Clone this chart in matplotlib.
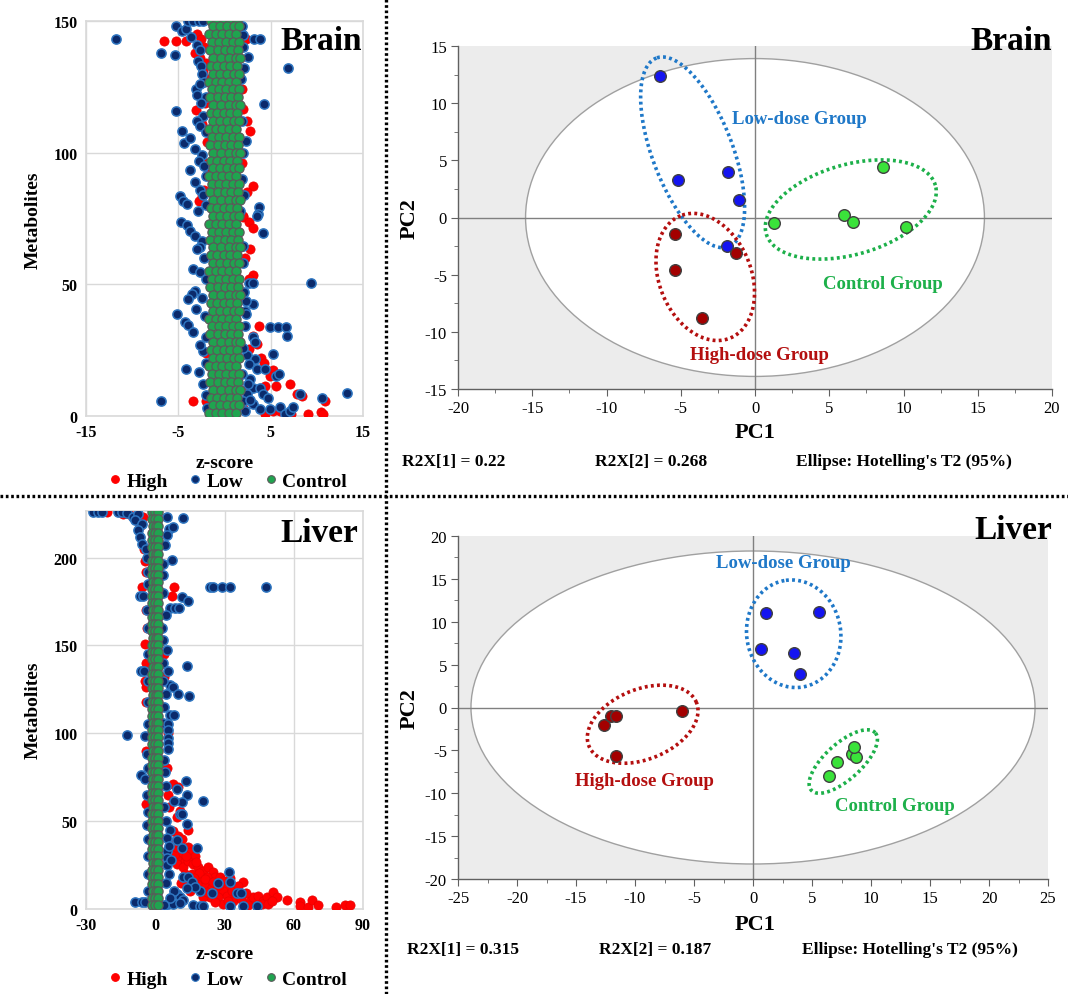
import matplotlib
matplotlib.use("Agg")
import matplotlib.pyplot as plt
from matplotlib.patches import Ellipse
from matplotlib.lines import Line2D
from matplotlib.ticker import MultipleLocator
import numpy as np

plt.rcParams['font.family'] = ['Liberation Serif', 'DejaVu Serif']
plt.rcParams['axes.unicode_minus'] = False

# ---------------- z-score data: (z-score, metabolite index) ----------------
brain_high = [
    (-6.5, 142.5), (-5.3, 142.5), (-4.2, 142.5), (2.3, 143), (-3.0, 145), (-2.5, 143),
    (-2.2, 140), (-3.2, 138), (-2.7, 136), (-2.0, 134), (-2.3, 131), (-1.9, 128),
    (2.0, 116.7), (-3.1, 116.3), (1.9, 124), (-2.1, 119), (-2.4, 111), (2.4, 112),
    (2.8, 108.4), (-1.9, 104), (-2.1, 96), (1.9, 96), (-1.8, 92), (3.05, 87.5),
    (-2.2, 86), (2.4, 85), (-2.8, 81.8), (-2.4, 83.5), (2.0, 76), (2.0, 75.4),
    (2.6, 73.6), (3.05, 71.4), (2.8, 63.4), (2.2, 60), (3.1, 53.6), (2.6, 52.1),
    (2.0, 45), (3.7, 34.3), (3.1, 30.5), (3.5, 27.4), (2.6, 25.5), (-2.0, 24),
    (4.0, 22.2), (4.3, 20.3), (5.2, 17.5), (4.9, 15.3), (5.6, 11.5), (4.4, 11.5),
    (7.1, 12.3), (2.3, 10), (7.8, 8.4), (8.4, 7.7), (-3.4, 5.6), (-2.0, 5.6),
    (10.9, 5.6), (2.0, 3), (5.2, 2.0), (6.0, 2.0), (10.5, 1.5), (4.4, 0.8),
    (7.2, 0.8), (9.0, 0.8), (10.7, 0.8),
]
brain_low = [
    (-11.8, 143), (-6.9, 138), (-5.4, 137), (-5.3, 116), (6.9, 132), (4.3, 118.5),
    (3.2, 143), (3.8, 143), (2.5, 136.5), (2.1, 132), (2.0, 144.5), (2.3, 104.6),
    (-4.6, 108.4), (-4.4, 103.6), (-3.7, 105.6), (-3.2, 101.4), (-3.1, 124), (-3.0, 122),
    (-5.3, 148), (-4.6, 146.3), (-4.2, 147), (-3.7, 93.4), (-3.2, 88.8), (-4.8, 83.7),
    (-4.5, 81.8), (-4.1, 80.5), (3.7, 79.5), (3.6, 76.7), (1.7, 78),
    (-4.0, 150), (-3.4, 150), (-2.8, 150), (-2.3, 150), (-3.6, 144), (-3.0, 141),
    (-2.6, 139), (-2.9, 135), (-2.5, 133), (-2.4, 130), (-2.2, 127), (-2.7, 126),
    (-2.0, 121), (-2.5, 119), (-2.3, 114), (-3.0, 112), (-2.6, 110), (-2.0, 108),
    (-2.4, 99), (-2.8, 97), (-2.2, 95), (-2.0, 91), (-2.6, 86), (-2.3, 84),
    (-2.0, 80), (-2.9, 78), (1.9, 148), (2.0, 140), (1.8, 128), (1.9, 112),
    (2.0, 100), (1.9, 90), (2.1, 84),
    (-4.7, 73.6), (-4.1, 72.5), (-3.7, 70.4), (-3.2, 68.4), (-2.45, 66.6), (-2.6, 64),
    (-3.0, 63.4), (-3.4, 55.8), (-2.6, 54.6), (-3.2, 47.6), (-3.5, 46.3), (-4.0, 44.4),
    (-3.1, 40.6), (-5.1, 38.7), (-4.3, 35.6), (-4.0, 34.7), (-3.4, 31.8), (-2.3, 24.8),
    (-4.2, 17.8), (-2.75, 16.6), (-6.9, 5.6), (4.2, 69.5), (3.5, 76), (9.4, 50.5),
    (2.6, 50.5), (3.1, 50.5), (2.0, 64.6), (3.1, 42.6), (2.3, 43.8), (2.2, 40),
    (2.3, 38.7), (4.9, 33.7), (5.8, 33.7), (6.7, 33.7), (6.8, 30.5), (3.1, 30),
    (3.3, 28.1), (5.3, 23.5), (2.4, 23), (3.3, 21.7), (2.6, 19.8), (3.5, 17.8),
    (4.4, 17.8), (5.6, 15.3), (5.95, 15.9), (2.8, 14), (3.1, 10.8), (3.8, 10.8),
    (4.2, 8.3), (4.7, 7), (8.2, 8.4), (10.6, 6.7), (13.3, 8.6), (3.1, 4.6),
    (3.8, 2.7), (4.9, 2.7), (6.0, 3.5), (6.5, 0.8), (7.1, 2.0), (7.4, 3.3),
    (2.4, 8.3), (2.0, 5.8), (-2.2, 60), (-2.0, 52), (-2.4, 45), (-2.1, 38),
    (-2.0, 30), (-2.6, 27), (-2.0, 20), (-2.3, 12), (-2.0, 8), (-1.9, 3),
    (2.0, 58), (2.1, 47), (2.2, 34), (2.0, 26), (2.5, 12), (2.8, 6), (2.2, 2), (1.9, 16),
]
brain_control = [
    (150, [-1.5, -0.8, -0.1, 0.6, 1.3]), (148, [-1.2, -0.45, 0.3, 1.05, 1.6]),
    (145, [-1.65, -0.95, -0.25, 0.45, 1.2]), (142, [-1.35, -0.6, 0.15, 0.9, 1.55]),
    (139, [-1.55, -0.7, 0.0, 0.75, 1.45]), (136, [-1.25, -0.35, 0.45, 1.2, 1.65]),
    (133, [-1.5, -0.8, -0.1, 0.6, 1.3]), (130, [-1.2, -0.45, 0.3, 1.05, 1.6]),
    (127, [-1.65, -0.95, -0.25, 0.45, 1.2]), (124, [-1.35, -0.6, 0.15, 0.9, 1.55]),
    (121, [-1.55, -0.7, 0.0, 0.75, 1.45]), (118, [-1.25, -0.35, 0.45, 1.2, 1.65]),
    (115, [-1.5, -0.8, -0.1, 0.6, 1.3]), (112, [-1.2, -0.45, 0.3, 1.05, 1.6]),
    (109, [-1.65, -0.95, -0.25, 0.45, 1.2]), (106, [-1.35, -0.6, 0.15, 0.9, 1.55]),
    (103, [-1.55, -0.7, 0.0, 0.75, 1.45]), (100, [-1.25, -0.35, 0.45, 1.2, 1.65]),
    (97, [-1.5, -0.8, -0.1, 0.6, 1.3]), (94, [-1.2, -0.45, 0.3, 1.05, 1.6]),
    (91, [-1.65, -0.95, -0.25, 0.45, 1.2]), (88, [-1.35, -0.6, 0.15, 0.9, 1.55]),
    (85, [-1.55, -0.7, 0.0, 0.75, 1.45]), (82, [-1.25, -0.35, 0.45, 1.2, 1.65]),
    (79, [-1.5, -0.8, -0.1, 0.6, 1.3]), (76, [-1.2, -0.45, 0.3, 1.05, 1.6]),
    (73, [-1.65, -0.95, -0.25, 0.45, 1.2]), (70, [-1.35, -0.6, 0.15, 0.9, 1.55]),
    (67, [-1.55, -0.7, 0.0, 0.75, 1.45]), (64, [-1.25, -0.35, 0.45, 1.2, 1.65]),
    (61, [-1.5, -0.8, -0.1, 0.6, 1.3]), (58, [-1.2, -0.45, 0.3, 1.05, 1.6]),
    (55, [-1.65, -0.95, -0.25, 0.45, 1.2]), (52, [-1.35, -0.6, 0.15, 0.9, 1.55]),
    (49, [-1.55, -0.7, 0.0, 0.75, 1.45]), (46, [-1.25, -0.35, 0.45, 1.2, 1.65]),
    (43, [-1.5, -0.8, -0.1, 0.6, 1.3]), (40, [-1.2, -0.45, 0.3, 1.05, 1.6]),
    (37, [-1.65, -0.95, -0.25, 0.45, 1.2]), (34, [-1.35, -0.6, 0.15, 0.9, 1.55]),
    (31, [-1.55, -0.7, 0.0, 0.75, 1.45]), (28, [-1.25, -0.35, 0.45, 1.2, 1.65]),
    (25, [-1.5, -0.8, -0.1, 0.6, 1.3]), (22, [-1.2, -0.45, 0.3, 1.05, 1.6]),
    (19, [-1.65, -0.95, -0.25, 0.45, 1.2]), (16, [-1.35, -0.6, 0.15, 0.9, 1.55]),
    (13, [-1.55, -0.7, 0.0, 0.75, 1.45]), (10, [-1.25, -0.35, 0.45, 1.2, 1.65]),
    (7, [-1.5, -0.8, -0.1, 0.6, 1.3]), (4, [-1.2, -0.45, 0.3, 1.05, 1.6]),
    (1, [-1.65, -0.95, -0.25, 0.45, 1.2]),
]

liver_high = [
    (-21.0, 226), (-13.8, 225), (-11.4, 225), (-5.5, 223), (-6.5, 218), (-5.0, 205),
    (-4.5, 198), (-4.2, 192), (-5.9, 183.3), (8.3, 183.3), (7.1, 178.2), (-4.0, 170),
    (-3.6, 160), (-4.4, 151), (4.0, 145), (-4.2, 140), (3.6, 132), (-4.4, 130),
    (-3.8, 126.3), (-3.8, 118), (5.4, 100), (-3.8, 90), (5.0, 80), (7.8, 71.2),
    (9.7, 69.3), (5.5, 65), (-4.0, 60), (6.0, 58), (10.7, 55.9), (9.6, 52.1), (14.4, 45.2),
    (7.8, 44.6), (10.0, 41.8), (10.7, 37.0), (14.3, 35.1), (15.1, 32.3), (17.2, 30.4),
    (10.7, 29.4), (12.9, 27.5), (8.6, 31.3), (9.3, 25.6), (12.2, 23.7), (14.3, 27.5),
    (16.5, 25.6), (18.7, 23.7), (20.8, 21.8), (23.0, 23.7), (25.2, 20.9), (25.9, 18.0),
    (28.1, 18.0), (29.5, 16.1), (30.9, 13.3), (22.3, 18.0), (19.4, 16.1), (21.6, 13.3),
    (24.4, 12.3), (26.6, 11.4), (29.5, 10.4), (30.9, 7.6), (33.1, 10.4), (34.6, 6.6),
    (38.2, 15.2), (36.0, 13.3), (27.3, 6.6), (23.7, 6.6), (20.8, 6.6), (29.5, 2.8),
    (33.8, 4.7), (41.1, 4.7), (42.5, 6.6), (44.7, 7.6), (46.8, 4.7), (48.3, 6.6),
    (46.1, 2.8), (49.0, 2.8), (50.9, 9.9), (52.6, 7.0), (50.4, 4.7), (56.9, 5.1),
    (62.7, 4.2), (62.7, 1.9), (66.0, 1.3), (67.8, 5.1), (70.7, 2.3), (78.3, 1.3),
    (82.2, 2.1), (84.4, 2.1), (16.0, 20.0), (18.0, 14.0), (13.0, 20.0), (20.0, 10.0),
    (15.0, 10.0), (11.0, 15.0), (35.0, 9.0), (40.0, 2.0), (44.0, 1.5),
    (9.0, 35.0), (12.0, 32.0), (11.5, 40.0), (8.5, 38.0), (13.5, 30.0), (17.5, 27.0),
    (19.0, 20.5), (21.5, 17.0), (17.0, 17.5), (14.0, 14.5), (22.5, 9.5), (25.0, 15.5),
    (27.5, 13.5), (31.5, 4.5), (26.0, 4.0), (37.0, 5.5), (39.5, 9.0), (32.5, 17.5),
]
liver_low = [
    (-26.8, 226), (-24.7, 226), (-23.2, 226), (-16.0, 226), (-14.6, 226), (-12.4, 225.3),
    (-9.5, 223), (-7.3, 225), (-8.8, 221.3), (-5.9, 219.3), (-7.3, 215.6), (-6.6, 211.8),
    (-5.9, 208), (5.2, 223.2), (12.2, 222.3), (6.1, 216.5), (7.8, 217.5), (5.2, 212.9),
    (4.2, 207.2), (7.1, 198.5), (3.5, 196.5), (23.7, 183.3), (25.2, 183.3), (28.8, 183.3),
    (32.4, 183.3), (48.0, 183.3), (-6.6, 178.2), (-5.2, 178.2), (11.5, 177.6), (14.4, 175.1),
    (6.3, 171.3), (8.5, 171.3), (10.3, 171.3), (4.6, 167.1), (3.5, 153), (5.2, 147.6),
    (13.6, 138.3), (-6.1, 135.2), (-4.7, 135.2), (5.5, 135.2), (6.3, 127.2), (7.8, 126.3),
    (10.0, 122.5), (14.8, 121.2), (4.6, 122.5),
    (-4.0, 205), (-3.6, 200), (-3.2, 192), (-3.0, 185), (-3.4, 170), (-3.0, 160),
    (3.5, 190), (3.2, 180), (3.0, 160), (3.4, 140), (-3.2, 145), (-3.0, 130),
    (3.3, 130), (-3.2, 118), (3.6, 115), (-3.0, 105), (3.2, 106),
    (-12.4, 99.1), (-4.4, 98.2), (6.4, 110.2), (8.3, 110.2), (5.6, 105.4), (5.5, 101.6),
    (5.5, 97.4), (5.5, 94.4), (5.5, 91.2), (-6.3, 76), (-4.4, 74.1), (13.2, 73.1),
    (9.3, 68.4), (13.9, 65.1), (20.8, 61.7), (11.5, 60.8), (8.3, 61.7), (10.7, 54.1),
    (11.5, 54.1), (13.9, 48.4), (18.0, 34.8), (6.4, 45.2), (9.3, 39.5), (11.5, 34.7),
    (5.0, 40.5), (5.0, 32.9), (5.0, 29.1), (5.0, 25.3), (32.1, 20.9), (27.3, 14.8),
    (32.4, 15.2), (19.4, 10.5), (24.4, 9.2), (35.3, 9.0), (37.2, 9.0), (12.2, 18.0),
    (14.4, 18.0), (15.8, 15.2), (17.2, 12.7), (13.6, 12.2), (9.3, 8.6), (10.7, 6.8),
    (12.2, 4.9), (-8.8, 4.2), (-5.9, 4.2), (-4.4, 4.2), (5.6, 2.8), (7.8, 2.8),
    (10.7, 3.2), (16.5, 2.0), (19.4, 1.9), (20.8, 1.5), (32.4, 1.9), (38.2, 1.5), (43.9, 1.5),
    (-3.5, 88), (4.0, 85), (-3.0, 80), (4.2, 78), (-3.4, 65), (4.5, 70), (-3.0, 55),
    (4.0, 58), (-3.6, 48), (4.8, 50), (-3.0, 40), (6.0, 36), (-3.2, 30), (7.0, 28),
    (-3.0, 20), (6.0, 20), (4.5, 15), (-3.0, 10), (8.0, 10), (6.5, 6), (3.6, 2),
]
liver_control = [
    (226, [-1.2, 0.1, 1.3]), (222, [-1.4, -0.1, 1.1]), (218, [-1.0, 0.3, 1.4]),
    (214, [-1.3, 0.0, 1.2]), (210, [-1.2, 0.1, 1.3]), (206, [-1.4, -0.1, 1.1]),
    (202, [-1.0, 0.3, 1.4]), (198, [-1.3, 0.0, 1.2]), (194, [-1.2, 0.1, 1.3]),
    (190, [-1.4, -0.1, 1.1]), (186, [-1.0, 0.3, 1.4]), (182, [-1.3, 0.0, 1.2]),
    (178, [-1.2, 0.1, 1.3]), (174, [-1.4, -0.1, 1.1]), (170, [-1.0, 0.3, 1.4]),
    (166, [-1.3, 0.0, 1.2]), (162, [-1.2, 0.1, 1.3]), (158, [-1.4, -0.1, 1.1]),
    (154, [-1.0, 0.3, 1.4]), (150, [-1.3, 0.0, 1.2]), (146, [-1.2, 0.1, 1.3]),
    (142, [-1.4, -0.1, 1.1]), (138, [-1.0, 0.3, 1.4]), (134, [-1.3, 0.0, 1.2]),
    (130, [-1.2, 0.1, 1.3]), (126, [-1.4, -0.1, 1.1]), (122, [-1.0, 0.3, 1.4]),
    (118, [-1.3, 0.0, 1.2]), (114, [-1.2, 0.1, 1.3]), (110, [-1.4, -0.1, 1.1]),
    (106, [-1.0, 0.3, 1.4]), (102, [-1.3, 0.0, 1.2]), (98, [-1.2, 0.1, 1.3]),
    (94, [-1.4, -0.1, 1.1]), (90, [-1.0, 0.3, 1.4]), (86, [-1.3, 0.0, 1.2]),
    (82, [-1.2, 0.1, 1.3]), (78, [-1.4, -0.1, 1.1]), (74, [-1.0, 0.3, 1.4]),
    (70, [-1.3, 0.0, 1.2]), (66, [-1.2, 0.1, 1.3]), (62, [-1.4, -0.1, 1.1]),
    (58, [-1.0, 0.3, 1.4]), (54, [-1.3, 0.0, 1.2]), (50, [-1.2, 0.1, 1.3]),
    (46, [-1.4, -0.1, 1.1]), (42, [-1.0, 0.3, 1.4]), (38, [-1.3, 0.0, 1.2]),
    (34, [-1.2, 0.1, 1.3]), (30, [-1.4, -0.1, 1.1]), (26, [-1.0, 0.3, 1.4]),
    (22, [-1.3, 0.0, 1.2]), (18, [-1.2, 0.1, 1.3]), (14, [-1.4, -0.1, 1.1]),
    (10, [-1.0, 0.3, 1.4]), (6, [-1.3, 0.0, 1.2]), (2, [-1.2, 0.1, 1.3]),
]

# ---------------- PCA scores (PC1, PC2) ----------------
brain_pca_low = [(-6.4, 12.4), (-5.2, 3.3), (-1.8, 4.0), (-1.1, 1.5), (-1.9, -2.5)]
brain_pca_high = [(-5.4, -1.4), (-5.4, -4.6), (-3.6, -8.8), (-1.3, -3.1)]
brain_pca_ctrl = [(1.3, -0.5), (6.0, 0.2), (6.6, -0.4), (8.6, 4.4), (10.2, -0.8)]
liver_pca_low = [(1.1, 11.0), (5.6, 11.1), (0.7, 6.8), (3.5, 6.3), (4.0, 3.9)]
liver_pca_high = [(-12.6, -2.0), (-12.0, -1.0), (-11.6, -1.0), (-6.0, -0.4), (-11.6, -5.6)]
liver_pca_ctrl = [(6.4, -8.0), (7.1, -6.3), (8.4, -5.4), (8.7, -5.8), (8.55, -4.6)]
brain_t2 = (15.45, 13.9)
liver_t2 = (23.9, 18.25)

W, H = 1068, 995
fig = plt.figure(figsize=(W / 100, H / 100), dpi=100)


def px_axes(l, t, r, b):
    return fig.add_axes([l / W, 1 - b / H, (r - l) / W, (b - t) / H])


RED, NAVY, NAVY_EDGE, GREEN, GREY_EDGE = '#ff0000', '#0b2a6b', '#2e75c0', '#1fa44f', '#5a5a5a'
MS = 44


def zplot(ax, high, low, control, xlim, xticks, ylim, yticks):
    hz, hm = zip(*high)
    lz, lm = zip(*low)
    cz = [z for m, zs in control for z in zs]
    cm = [m for m, zs in control for z in zs]
    ax.scatter(hz, hm, s=MS, c=RED, edgecolors='#e80000', linewidths=0.5, zorder=3)
    ax.scatter(lz, lm, s=MS, c=NAVY, edgecolors=NAVY_EDGE, linewidths=1.1, zorder=4)
    ax.scatter(cz, cm, s=MS, c=GREEN, edgecolors=GREY_EDGE, linewidths=0.9, zorder=5)
    ax.set_xlim(*xlim)
    ax.set_ylim(*ylim)
    ax.set_xticks(xticks)
    ax.set_yticks(yticks)
    ax.grid(True, color='#d9d9d9', lw=1.0, zorder=0)
    ax.set_axisbelow(True)
    for s in ax.spines.values():
        s.set_color('#d9d9d9')
        s.set_linewidth(1.2)
    ax.tick_params(length=0, labelsize=11.5, pad=6)
    for lab in ax.get_xticklabels() + ax.get_yticklabels():
        lab.set_fontweight('bold')


def zlegend(yc):
    handles = [Line2D([], [], ls='', marker='o', markersize=5.5, markerfacecolor=c,
                      markeredgecolor=e, markeredgewidth=0.8)
               for c, e in [(RED, RED), (NAVY, NAVY_EDGE), (GREEN, GREY_EDGE)]]
    fig.legend(handles, ['High', 'Low', 'Control'], loc='center', ncol=3, frameon=False,
               bbox_to_anchor=(228 / W, 1 - yc / H), bbox_transform=fig.transFigure,
               prop={'weight': 'bold', 'size': 14}, handlelength=0.6, handletextpad=0.3,
               columnspacing=1.1, borderpad=0)


# brain z-score
axb = px_axes(86, 22, 363, 417)
zplot(axb, brain_high, brain_low, brain_control, (-15, 15), [-15, -5, 5, 15], (0, 150), [0, 50, 100, 150])
fig.text(225 / W, 1 - 463 / H, 'z-score', ha='center', va='center', fontsize=14, fontweight='bold')
fig.text(33 / W, 1 - 220 / H, 'Metabolites', ha='center', va='center', rotation=90, fontsize=14, fontweight='bold')
fig.text(362 / W, 1 - 50 / H, 'Brain', ha='right', va='baseline', fontsize=24, fontweight='bold', zorder=10)
zlegend(482)

# liver z-score
axl = px_axes(86, 512, 363, 910)
zplot(axl, liver_high, liver_low, liver_control, (-30, 90), [-30, 0, 30, 60, 90], (0, 226.5), [0, 50, 100, 150, 200])
fig.text(225 / W, 1 - 955 / H, 'z-score', ha='center', va='center', fontsize=14, fontweight='bold')
fig.text(33 / W, 1 - 710 / H, 'Metabolites', ha='center', va='center', rotation=90, fontsize=14, fontweight='bold')
fig.text(358 / W, 1 - 542 / H, 'Liver', ha='right', va='baseline', fontsize=24, fontweight='bold', zorder=10)
zlegend(980)


def ring(ax, cx, cy, a, b, ang, color, sx, sy):
    t = np.linspace(0, 2 * np.pi, 240)
    th = np.radians(ang)
    dx = a * np.cos(t) * np.cos(th) - b * np.sin(t) * np.sin(th)
    dy = a * np.cos(t) * np.sin(th) + b * np.sin(t) * np.cos(th)
    ax.plot(cx + dx / sx, cy + dy / sy, color=color, lw=2.6, ls=(0, (0.8, 0.9)), zorder=4)


def pca_panel(ax, low, high, ctrl, xlim, ylim, t2, rings, box):
    l, t, r, b = box
    sx = (r - l) / (xlim[1] - xlim[0])
    sy = (b - t) / (ylim[1] - ylim[0])
    ax.set_facecolor('#ececec')
    ax.add_patch(Ellipse((0, 0), 2 * t2[0], 2 * t2[1], facecolor='white', edgecolor='#a0a0a0', lw=1.0, zorder=1))
    ax.axhline(0, color='#808080', lw=1.0, zorder=2)
    ax.axvline(0, color='#808080', lw=1.0, zorder=2)
    for cx, cy, a, bb, ang, col in rings:
        ring(ax, cx, cy, a, bb, ang, col, sx, sy)
    for pts, col in [(low, '#1414f0'), (high, '#a30000'), (ctrl, '#3ae23a')]:
        x, y = zip(*pts)
        ax.scatter(x, y, s=70, c=col, edgecolors='#404040', linewidths=1.0, zorder=5)
    ax.set_xlim(*xlim)
    ax.set_ylim(*ylim)
    ax.xaxis.set_major_locator(MultipleLocator(5))
    ax.yaxis.set_major_locator(MultipleLocator(5))
    ax.xaxis.set_minor_locator(MultipleLocator(2.5))
    ax.yaxis.set_minor_locator(MultipleLocator(2.5))
    for s in ['top', 'right']:
        ax.spines[s].set_visible(False)
    for s in ['left', 'bottom']:
        ax.spines[s].set_color('#606060')
        ax.spines[s].set_linewidth(1.0)
    ax.tick_params(which='both', direction='out', color='#606060', labelsize=12, pad=3)
    ax.tick_params(which='major', length=5)
    ax.tick_params(which='minor', length=3)


BLUE_T, RED_T, GREEN_T = '#1f78c8', '#b40f0f', '#1db04a'

# brain PCA
box_b = (458, 47, 1052, 390)
axpb = px_axes(*box_b)
pca_panel(axpb, brain_pca_low, brain_pca_high, brain_pca_ctrl, (-20, 20), (-15, 15), brain_t2,
          [(-4.2, 5.7, 101, 40, 111, BLUE_T), (-3.35, -5.2, 66, 46, 112, RED_T),
           (6.45, 0.7, 88, 45, 16, GREEN_T)], box_b)
axpb.text(3.0, 8.7, 'Low-dose Group', color=BLUE_T, fontsize=13.5, fontweight='bold', ha='center', va='center', zorder=6)
axpb.text(8.6, -5.8, 'Control Group', color=GREEN_T, fontsize=13.5, fontweight='bold', ha='center', va='center', zorder=6)
axpb.text(0.3, -12.0, 'High-dose Group', color=RED_T, fontsize=13.5, fontweight='bold', ha='center', va='center', zorder=6)
fig.text(1052 / W, 1 - 50 / H, 'Brain', ha='right', va='baseline', fontsize=24, fontweight='bold')
fig.text(755 / W, 1 - 433 / H, 'PC1', ha='center', va='center', fontsize=16, fontweight='bold')
fig.text(410 / W, 1 - 219 / H, 'PC2', ha='center', va='center', rotation=90, fontsize=16, fontweight='bold')
fig.text(402 / W, 1 - 462 / H, 'R2X[1] = 0.22', va='center', fontsize=12.5, fontweight='bold')
fig.text(595 / W, 1 - 462 / H, 'R2X[2] = 0.268', va='center', fontsize=12.5, fontweight='bold')
fig.text(796 / W, 1 - 462 / H, "Ellipse: Hotelling's T2 (95%)", va='center', fontsize=12.5, fontweight='bold')

# liver PCA
box_l = (458, 537, 1048, 880)
axpl = px_axes(*box_l)
pca_panel(axpl, liver_pca_low, liver_pca_high, liver_pca_ctrl, (-25, 25), (-20, 20), liver_t2,
          [(3.45, 8.6, 54, 47, 100, BLUE_T), (-9.35, -1.95, 58, 35, 22, RED_T),
           (7.65, -6.3, 43, 18, 42, GREEN_T)], box_l)
axpl.text(2.6, 16.9, 'Low-dose Group', color=BLUE_T, fontsize=13.5, fontweight='bold', ha='center', va='center', zorder=6)
axpl.text(-9.2, -8.5, 'High-dose Group', color=RED_T, fontsize=13.5, fontweight='bold', ha='center', va='center', zorder=6)
axpl.text(12.0, -11.4, 'Control Group', color=GREEN_T, fontsize=13.5, fontweight='bold', ha='center', va='center', zorder=6)
fig.text(1052 / W, 1 - 539 / H, 'Liver', ha='right', va='baseline', fontsize=24, fontweight='bold')
fig.text(755 / W, 1 - 925 / H, 'PC1', ha='center', va='center', fontsize=16, fontweight='bold')
fig.text(410 / W, 1 - 709 / H, 'PC2', ha='center', va='center', rotation=90, fontsize=16, fontweight='bold')
fig.text(407 / W, 1 - 950 / H, 'R2X[1] = 0.315', va='center', fontsize=12.5, fontweight='bold')
fig.text(599 / W, 1 - 950 / H, 'R2X[2] = 0.187', va='center', fontsize=12.5, fontweight='bold')
fig.text(802 / W, 1 - 950 / H, "Ellipse: Hotelling's T2 (95%)", va='center', fontsize=12.5, fontweight='bold')

# dotted panel separators
fig.add_artist(Line2D([386 / W, 386 / W], [0, 1], transform=fig.transFigure, color='black', lw=2.4, ls=(0, (0.8, 0.8))))
fig.add_artist(Line2D([0, 1], [1 - 497 / H, 1 - 497 / H], transform=fig.transFigure, color='black', lw=2.4, ls=(0, (0.8, 0.8))))

fig.savefig('out.png', dpi=100)
